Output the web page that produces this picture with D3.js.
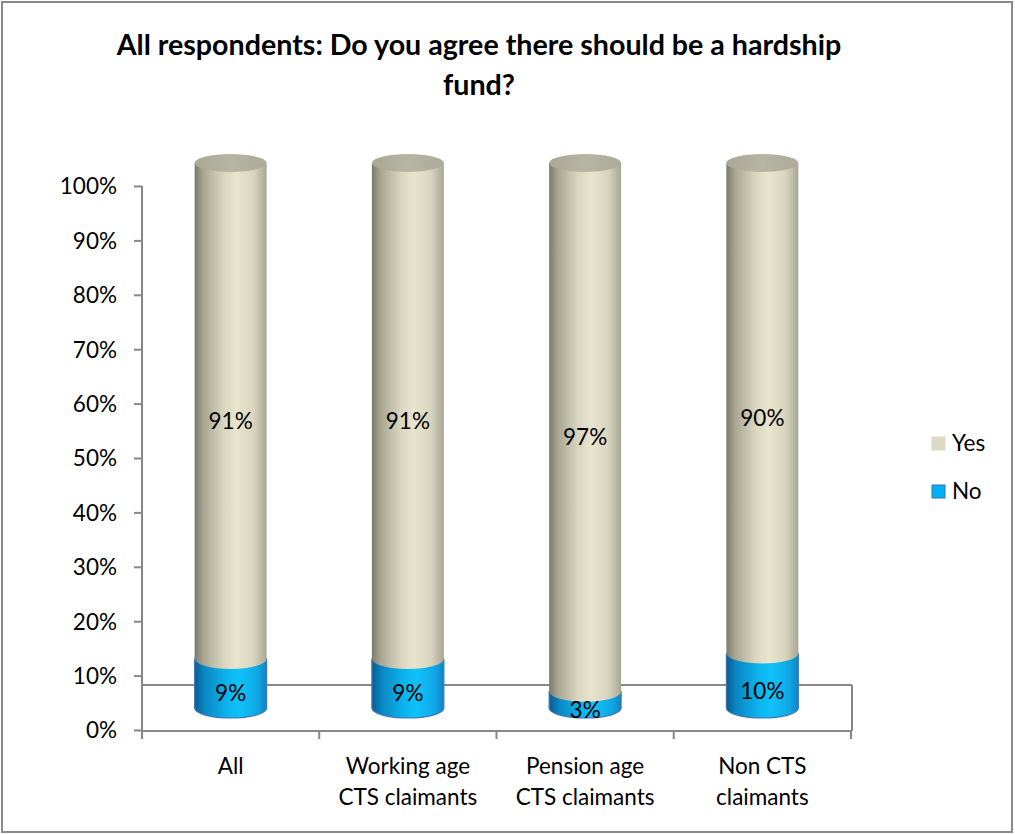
<!DOCTYPE html>
<html>
<head>
<meta charset="utf-8">
<script src="https://cdn.jsdelivr.net/npm/d3@7"></script>
<style>
  html, body { margin: 0; padding: 0; background: #fff; }
  svg { display: block; }
  text { font-family: Lato, "Open Sans", sans-serif; }
</style>
</head>
<body>
<svg id="chart" width="1015" height="834"></svg>
<script>
// ---- data ----
const titleLines = ["All respondents: Do you agree there should be a hardship", "fund?"];
const categories = ["All", "Working age CTS claimants", "Pension age CTS claimants", "Non CTS claimants"];
const categoryLines = [["All"], ["Working age", "CTS claimants"], ["Pension age", "CTS claimants"], ["Non CTS", "claimants"]];
const seriesNames = ["Yes", "No"];
const yesValues = [91, 91, 97, 90];
const noValues = [9, 9, 3, 10];
const yTicks = [0, 10, 20, 30, 40, 50, 60, 70, 80, 90, 100];

// ---- layout ----
const svg = d3.select("#chart");
const W = 1015, H = 834;
const plotLeft = 142, plotRight = 851;

svg.append("rect").attr("x", 2).attr("y", 2).attr("width", W - 5).attr("height", H - 4)
  .attr("fill", "#fff").attr("stroke", "#8a8a8a").attr("stroke-width", 2);

const x = d3.scaleBand().domain(categories).range([plotLeft, plotRight]).paddingInner(0).paddingOuter(0);
const yFront = d3.scaleLinear().domain([0, 100]).range([730, 186]);
const yCyl = d3.scaleLinear().domain([0, 100]).range([708, 163]);

const defs = svg.append("defs");
function grad(id, stops) {
  const g = defs.append("linearGradient").attr("id", id).attr("x1", "0%").attr("x2", "100%").attr("y1", "0%").attr("y2", "0%");
  stops.forEach(s => g.append("stop").attr("offset", s[0]).attr("stop-color", s[1]));
}
grad("yesSide", [["0%", "#7b7a6a"], ["12%", "#a8a692"], ["40%", "#d9d5bf"], ["58%", "#e8e4ce"], ["82%", "#d8d4be"], ["100%", "#a9a794"]]);
grad("noSide", [["0%", "#0a5c90"], ["14%", "#0a88c4"], ["45%", "#0bb4ee"], ["62%", "#10c2fa"], ["88%", "#0ea6e3"], ["100%", "#1582c2"]]);
grad("yesTop", [["0%", "#a9a795"], ["50%", "#b6b4a2"], ["100%", "#acaa98"]]);

// ---- floor / axes ----
const axisColor = "#878787";
const g = svg.append("g");
// floor back edge and right side
g.append("line").attr("x1", plotLeft).attr("x2", plotRight + 1).attr("y1", 685).attr("y2", 685)
  .attr("stroke", axisColor).attr("stroke-width", 2);
g.append("line").attr("x1", plotRight + 1).attr("x2", plotRight + 1).attr("y1", 685).attr("y2", 731)
  .attr("stroke", axisColor).attr("stroke-width", 2);
// bottom axis line
g.append("line").attr("x1", plotLeft).attr("x2", plotRight + 1).attr("y1", 731).attr("y2", 731)
  .attr("stroke", axisColor).attr("stroke-width", 2);
// category boundary ticks
const bounds = categories.map(c => x(c)).concat([x(categories[categories.length - 1]) + x.bandwidth()]);
g.selectAll(".xtick").data(bounds).join("line")
  .attr("x1", d => d).attr("x2", d => d).attr("y1", 731).attr("y2", 739)
  .attr("stroke", axisColor).attr("stroke-width", 2);

// y axis
const yAxis = d3.axisLeft(yFront).tickValues(yTicks).tickFormat(d => d + "%").tickSize(8).tickSizeOuter(0).tickPadding(17);
const ya = svg.append("g").attr("transform", `translate(${plotLeft},0)`).call(yAxis);
ya.select(".domain").remove();
ya.selectAll(".tick line").attr("stroke", axisColor).attr("stroke-width", 2);
ya.selectAll(".tick text").attr("font-size", 22.5).attr("fill", "#000").attr("font-family", "Lato, sans-serif").attr("dy", "0.35em");
g.append("line").attr("x1", plotLeft).attr("x2", plotLeft).attr("y1", 186).attr("y2", 739)
  .attr("stroke", axisColor).attr("stroke-width", 2);

// ---- cylinders ----
const rx = x.bandwidth() * 0.203;
const ry = 10;
function sidePath(cx, yTop, yBot) {
  return `M${cx - rx},${yTop} L${cx - rx},${yBot} A${rx},${ry} 0 0 0 ${cx + rx},${yBot} L${cx + rx},${yTop} Z`;
}
const cyl = svg.append("g");
categories.forEach((c, i) => {
  const cx = x(c) + x.bandwidth() / 2;
  const base = yCyl(0);
  const noTop = yCyl(noValues[i]);
  const yesTop = yCyl(noValues[i] + yesValues[i]);
  // No segment
  cyl.append("path").attr("d", sidePath(cx, noTop, base))
    .attr("fill", "url(#noSide)").attr("stroke", "#3a78b8").attr("stroke-width", 1.2);
  // Yes segment
  cyl.append("path").attr("d", sidePath(cx, yesTop, noTop))
    .attr("fill", "url(#yesSide)").attr("stroke", "none");
  cyl.append("ellipse").attr("cx", cx).attr("cy", yesTop).attr("rx", rx).attr("ry", ry - 1)
    .attr("fill", "url(#yesTop)");
  // labels
  cyl.append("text").attr("x", cx).attr("y", (yesTop + noTop) / 2 + ry).attr("dy", "0.35em")
    .attr("text-anchor", "middle").attr("font-size", 22.5).attr("fill", "#000").text(yesValues[i] + "%");
  cyl.append("text").attr("x", cx).attr("y", (noTop + base) / 2 + ry).attr("dy", "0.35em")
    .attr("text-anchor", "middle").attr("font-size", 22.5).attr("fill", "#000").text(noValues[i] + "%");
});

// ---- category labels ----
categories.forEach((c, i) => {
  const cx = x(c) + x.bandwidth() / 2;
  const t = svg.append("text").attr("text-anchor", "middle").attr("font-size", 22.5).attr("fill", "#000");
  categoryLines[i].forEach((ln, j) => {
    t.append("tspan").attr("x", cx).attr("y", 774 + j * 31).text(ln);
  });
});

// ---- title ----
const title = svg.append("g");
const t1 = title.append("text").attr("x", 479).attr("y", 55).attr("text-anchor", "middle")
  .attr("font-weight", "bold").attr("font-size", 26).attr("fill", "#000").text(titleLines[0]);
const len = t1.node().getComputedTextLength();
const fs = 26 * 725 / len;
t1.attr("font-size", fs);
title.append("text").attr("x", 479).attr("y", 95).attr("text-anchor", "middle")
  .attr("font-weight", "bold").attr("font-size", fs).attr("fill", "#000").text(titleLines[1]);

// ---- legend ----
const legendColors = ["#ddd9c3", "#00b0f0"];
const legendStroke = ["#ddd9c3", "#2e75b6"];
seriesNames.forEach((s, i) => {
  const ly = 437 + i * 48;
  svg.append("rect").attr("x", 932).attr("y", ly).attr("width", 13).attr("height", 13)
    .attr("fill", legendColors[i]).attr("stroke", legendStroke[i]).attr("stroke-width", 1);
  svg.append("text").attr("x", 952).attr("y", ly + 6.5).attr("dy", "0.35em")
    .attr("font-size", 22.5).attr("fill", "#000").text(s);
});
</script>
</body>
</html>
